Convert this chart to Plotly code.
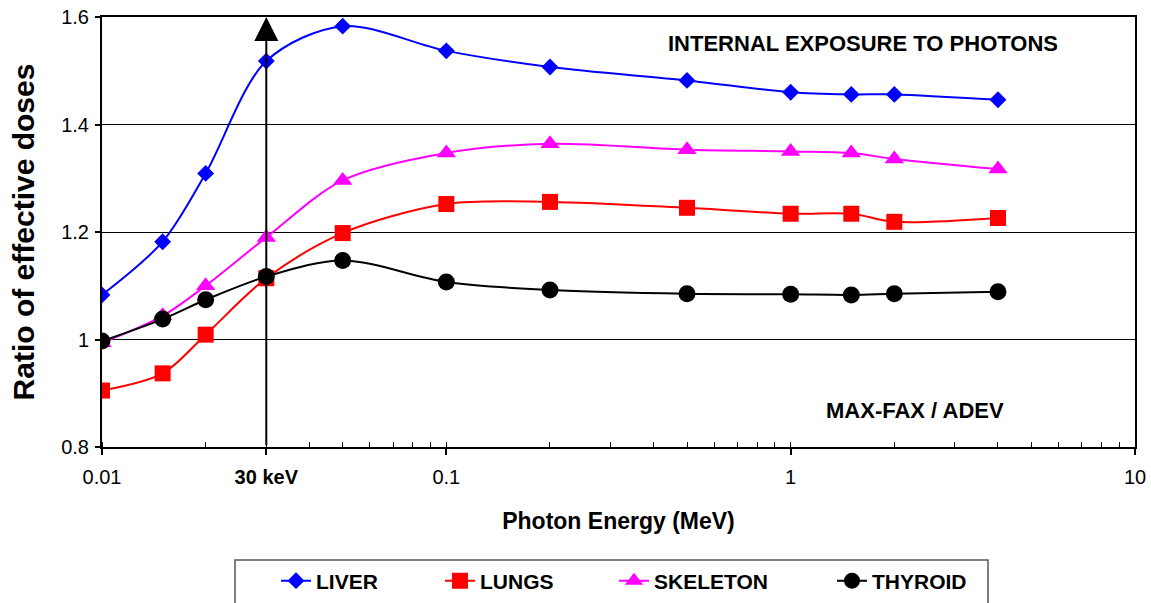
import plotly.graph_objects as go
import math

energy = [0.01, 0.015, 0.02, 0.03, 0.05, 0.1, 0.2, 0.5, 1, 1.5, 2, 4]
liver = [1.083, 1.182, 1.309, 1.518, 1.583, 1.537, 1.507, 1.482, 1.460, 1.456, 1.456, 1.446]
lungs = [0.905, 0.937, 1.009, 1.114, 1.198, 1.252, 1.256, 1.245, 1.234, 1.234, 1.219, 1.226]
skeleton = [0.994, 1.044, 1.100, 1.190, 1.296, 1.347, 1.364, 1.353, 1.350, 1.347, 1.336, 1.317]
thyroid = [0.997, 1.038, 1.074, 1.117, 1.147, 1.107, 1.092, 1.085, 1.084, 1.083, 1.085, 1.089]

x_tickvals = [0.01, 0.03, 0.1, 1, 10]
x_ticktext = ["0.01", "<b>30 keV</b>", "0.1", "1", "10"]
y_tickvals = [0.8, 1.0, 1.2, 1.4, 1.6]
y_ticktext = ["0.8", "1", "1.2", "1.4", "1.6"]

FONT = "Liberation Sans, Arial, sans-serif"

W, H = 1151, 603
ML, MR, MT, MB = 102, 16, 17, 156
PW = W - ML - MR
PH = H - MT - MB


def px2paper_x(px):
    return (px - ML) / PW


def px2paper_y(py):
    return (H - MB - py) / PH


series = [
    ("LIVER", liver, "#0000FF", "diamond", 13),
    ("LUNGS", lungs, "#FF0000", "square", 16),
    ("SKELETON", skeleton, "#FF00FF", "triangle-up", 17),
    ("THYROID", thyroid, "#000000", "circle", 17),
]
legend_text_start = [319, 483, 657, 875]

fig = go.Figure()
for i, (name, vals, col, sym, sz) in enumerate(series):
    lg = "legend" if i == 0 else f"legend{i+1}"
    fig.add_trace(go.Scatter(
        x=energy, y=vals, name=name, mode="lines+markers",
        line=dict(color=col, width=2, shape="spline", smoothing=0.9),
        marker=dict(symbol=sym, size=sz, color=col, line=dict(width=0)),
        legend=lg,
    ))

legend_common = dict(
    orientation="h", yanchor="middle", xanchor="left",
    font=dict(family=FONT, size=21, color="black", weight="bold"),
    bgcolor="rgba(0,0,0,0)", borderwidth=0,
)
lay_legends = {}
for i, ts in enumerate(legend_text_start):
    key = "legend" if i == 0 else f"legend{i+1}"
    lay_legends[key] = dict(legend_common, x=px2paper_x(ts - 43), y=px2paper_y(581))

fig.update_layout(
    width=W, height=H,
    margin=dict(l=ML, r=MR, t=MT, b=MB, autoexpand=False),
    paper_bgcolor="white", plot_bgcolor="white",
    showlegend=True,
    font=dict(family=FONT, color="black"),
    **lay_legends,
)

fig.update_xaxes(
    type="log", range=[-2, 1], automargin=False,
    tickvals=x_tickvals, ticktext=x_ticktext,
    tickfont=dict(family=FONT, size=20, color="black"),
    ticks="outside", ticklen=6, tickwidth=1.5, tickcolor="black",
    ticklabelstandoff=5,
    showline=True, linecolor="black", linewidth=2, mirror=True,
    showgrid=False, zeroline=False,
    minor=dict(ticks="inside", ticklen=5, tickwidth=1, tickcolor="black", dtick="D1", showgrid=False),
    title=dict(text="<b>Photon Energy (MeV)</b>", font=dict(family=FONT, size=23, color="black"), standoff=26),
)
fig.update_yaxes(
    range=[0.8, 1.6], automargin=False,
    tickvals=y_tickvals, ticktext=y_ticktext,
    tickfont=dict(family=FONT, size=20, color="black"),
    ticks="outside", ticklen=5, tickwidth=1.5, tickcolor="black",
    ticklabelstandoff=2,
    showline=True, linecolor="black", linewidth=2, mirror=True,
    showgrid=True, gridcolor="black", gridwidth=1, zeroline=False,
    title=dict(text="<b>Ratio of effective doses</b>", font=dict(family=FONT, size=30, color="black"), standoff=18),
)

# vertical arrow at 30 keV
fig.add_annotation(
    x=math.log10(0.03), y=1.6, ax=math.log10(0.03), ay=0.8,
    xref="x", yref="y", axref="x", ayref="y",
    text="", showarrow=True, arrowhead=2, arrowsize=2.4, arrowwidth=2, arrowcolor="black",
)

fig.add_annotation(
    x=px2paper_x(863), y=px2paper_y(43), xref="paper", yref="paper",
    text="<b>INTERNAL EXPOSURE TO PHOTONS</b>", showarrow=False,
    font=dict(family=FONT, size=22, color="black"), xanchor="center", yanchor="middle",
)
fig.add_annotation(
    x=px2paper_x(915), y=px2paper_y(410), xref="paper", yref="paper",
    text="<b>MAX-FAX / ADEV</b>", showarrow=False,
    font=dict(family=FONT, size=22, color="black"), xanchor="center", yanchor="middle",
)

# legend frame (extends beyond the bottom edge as in the reference)
fig.add_shape(
    type="rect", xref="paper", yref="paper",
    x0=px2paper_x(235), x1=px2paper_x(988), y0=px2paper_y(560), y1=px2paper_y(620),
    line=dict(color="#555555", width=1.5), fillcolor="rgba(0,0,0,0)", layer="below",
)

fig.write_html("out.html")
